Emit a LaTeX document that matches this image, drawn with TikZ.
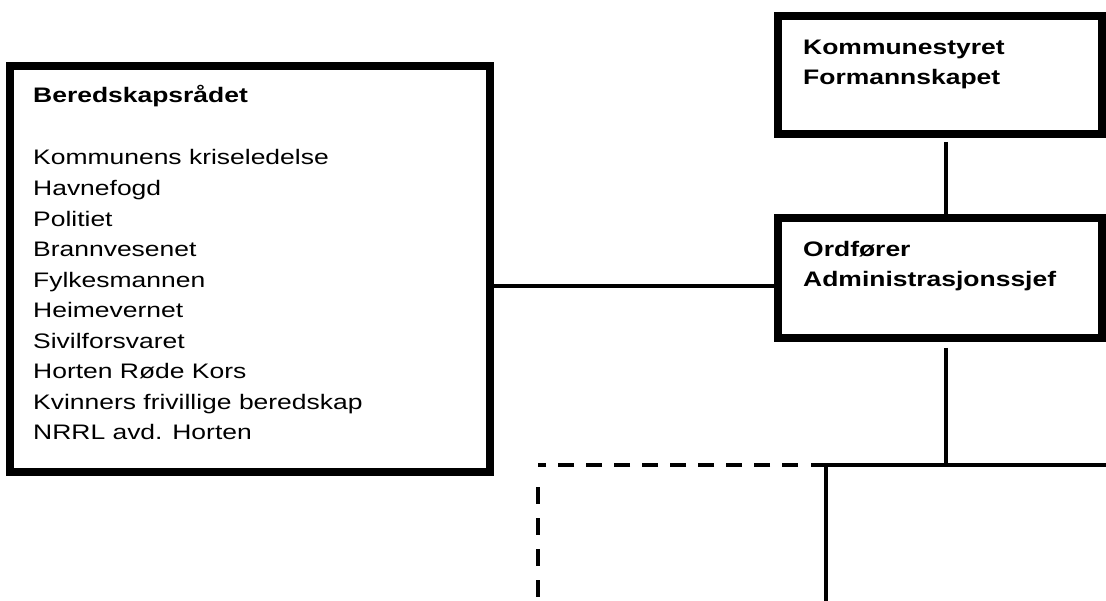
\documentclass[tikz,border=0pt]{standalone}
\usepackage{fontspec}
\setmainfont[FakeStretch=1.26]{Liberation Sans}
\usetikzlibrary{calc}
\begin{document}
\begin{tikzpicture}[x=1pt,y=-1pt,
  box/.style={draw=black, line width=8pt, inner sep=0pt, rectangle},
  txt/.style={anchor=base west, inner sep=0pt, font=\fontsize{21}{30}\selectfont},
  btxt/.style={txt, font=\fontsize{21}{30}\selectfont\bfseries},
  conn/.style={draw=black, line width=3.3pt},
  dconn/.style={draw=black, line width=3.3pt, dash pattern=on 16pt off 12pt},
  vdconn/.style={draw=black, line width=3.3pt, dash pattern=on 17pt off 14pt}]
\useasboundingbox (0,0) rectangle (1106,601);
\fill[white] (0,0) rectangle (1106,601);

% boxes
\node[box, minimum width=480pt, minimum height=406pt] (lb) at (250,269) {};
\node[box, minimum width=323.5pt, minimum height=118pt] (tb) at (939.75,75) {};
\node[box, minimum width=323.5pt, minimum height=120pt] (mb) at (939.75,278) {};

% texts
\node[btxt] (t0) at (33,103) {Beredskapsrådet};
\foreach \t [count=\i from 0] in {Kommunens kriseledelse,Havnefogd,Politiet,Brannvesenet,Fylkesmannen,Heimevernet,Sivilforsvaret,Horten Røde Kors,Kvinners frivillige beredskap,NRRL avd. Horten}
  \node[txt] (l\i) at (33,165+30.55*\i) {\t};
\node[btxt] (k1) at (803,55) {Kommunestyret};
\node[btxt] (k2) at (803,85) {Formannskapet};
\node[btxt] (o1) at (803,257) {Ordfører};
\node[btxt] (o2) at (803,287) {Administrasjonssjef};

% coordinates
\coordinate (cx) at (946,0);
\coordinate (cy) at (0,286);
\coordinate (j1) at (946,465);
\coordinate (j2) at (826,465);
\coordinate (hr) at (1106,465);
\coordinate (hl) at (811,465);
\coordinate (dstart) at (798,465);
\coordinate (dl) at (538,465);
\coordinate (dv) at (538,487);
\coordinate (dvb) at (538,601);
\coordinate (b2) at (826,601);

% connectors
\draw[conn] ($(tb.south -| cx)+(0,4)$) -- (mb.north -| cx);
\draw[conn] (lb.east |- cy) -- (mb.west |- cy);
\draw[conn] ($(mb.south -| cx)+(0,6)$) -- (j1);
\draw[conn] (hl) -- (hr);
\draw[conn] (j2) -- (b2);
\draw[dconn] (dstart) -- (dl);
\draw[vdconn] (dv) -- (dvb);
\end{tikzpicture}
\end{document}
